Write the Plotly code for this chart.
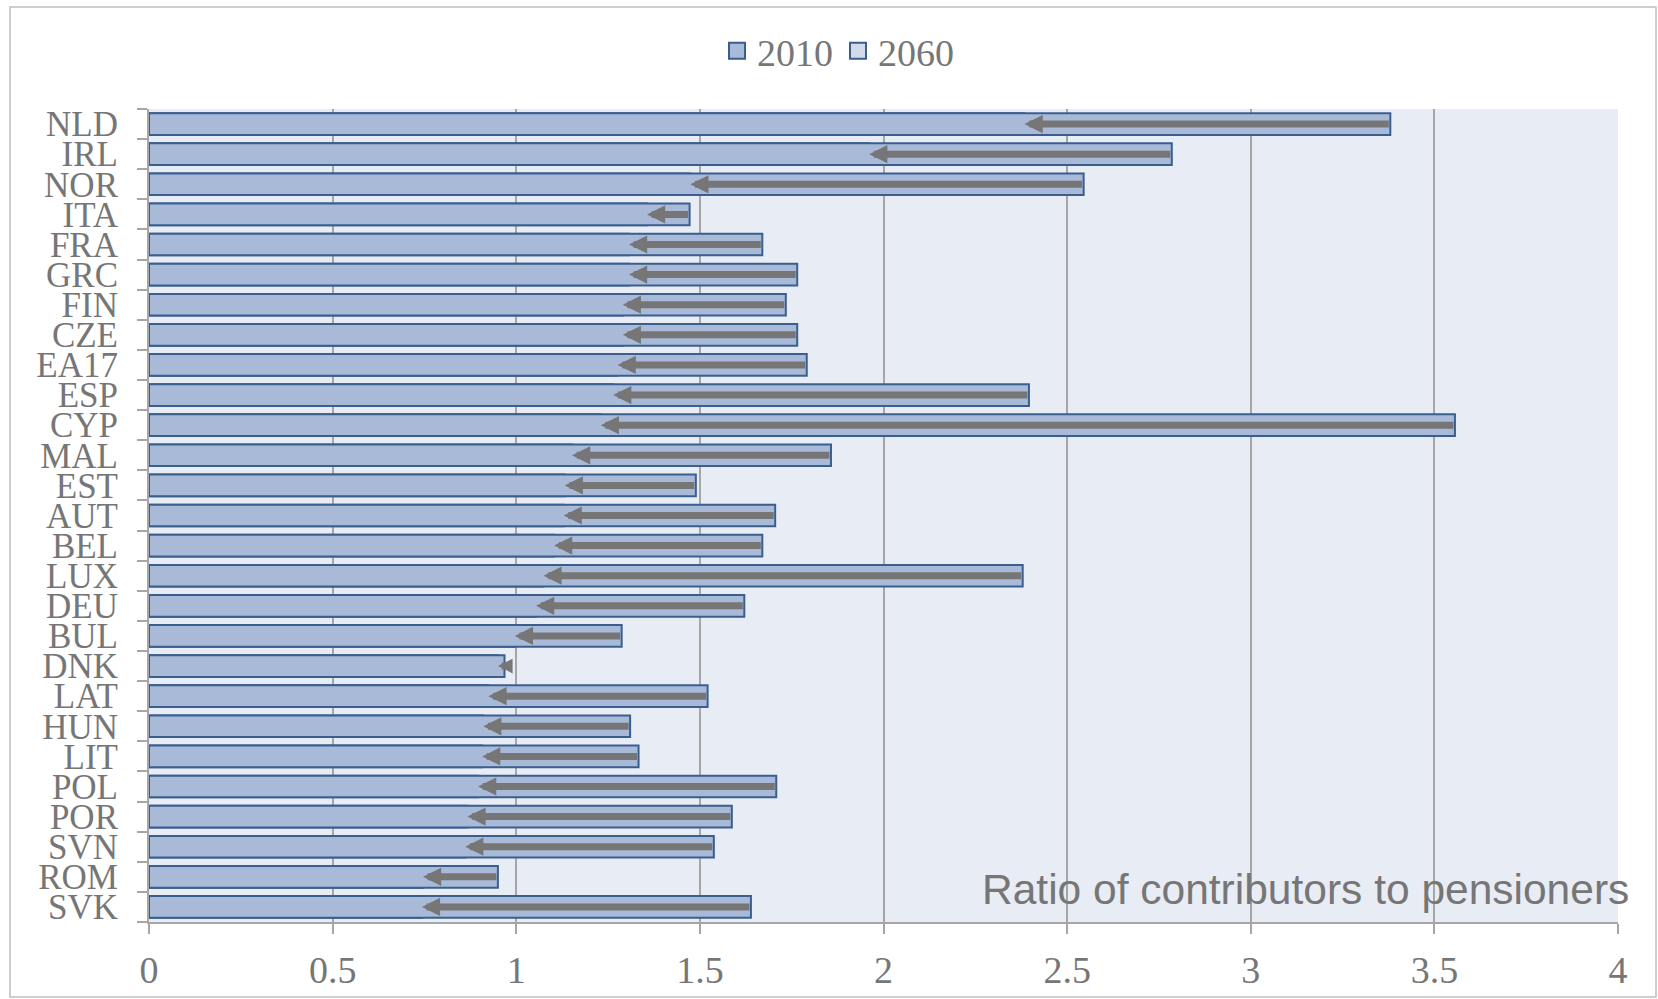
import plotly.graph_objects as go

countries = ["NLD", "IRL", "NOR", "ITA", "FRA", "GRC", "FIN", "CZE", "EA17", "ESP",
             "CYP", "MAL", "EST", "AUT", "BEL", "LUX", "DEU", "BUL", "DNK", "LAT",
             "HUN", "LIT", "POL", "POR", "SVN", "ROM", "SVK"]
v2010 = [3.38, 2.785, 2.545, 1.472, 1.670, 1.765, 1.734, 1.765, 1.791, 2.396,
         3.556, 1.857, 1.489, 1.705, 1.670, 2.379, 1.621, 1.287, 0.968, 1.521,
         1.310, 1.333, 1.708, 1.587, 1.538, 0.950, 1.639]
v2060 = [2.384, 1.961, 1.474, 1.356, 1.307, 1.307, 1.290, 1.290, 1.276, 1.264,
         1.230, 1.152, 1.132, 1.129, 1.103, 1.074, 1.054, 0.996, 0.950, 0.924,
         0.910, 0.907, 0.896, 0.867, 0.861, 0.746, 0.743]
x_ticks = [0, 0.5, 1, 1.5, 2, 2.5, 3, 3.5, 4]
x_ticklabels = ["0", "0.5", "1", "1.5", "2", "2.5", "3", "3.5", "4"]

GRAY = "#767676"
C2010, C2060, EDGE = "#A9BAD8", "#D3DAEA", "#3A5F8F"
fig = go.Figure()
fig.add_trace(go.Bar(y=countries, x=v2060, orientation="h", name="2060", showlegend=False,
                     marker=dict(color=C2060, line=dict(color=EDGE, width=2))))
fig.add_trace(go.Bar(y=countries, x=v2010, orientation="h", name="2010", showlegend=False,
                     marker=dict(color=C2010, line=dict(color=EDGE, width=2))))
for name, col in (("2010", C2010), ("2060", C2060)):
    fig.add_trace(go.Scatter(x=[None], y=[None], mode="markers", name=name,
                             marker=dict(symbol="square", size=16, color=col,
                                         line=dict(color=EDGE, width=2))))

annotations = []
for c, a, b in zip(countries, v2010, v2060):
    short = (a - b) < 0.05
    annotations.append(dict(x=b, y=c, ax=a, ay=c, xref="x", yref="y", axref="x", ayref="y",
                            text="", showarrow=True, arrowhead=2, arrowwidth=7,
                            arrowsize=0.42 if short else 0.52, arrowcolor=GRAY,
                            standoff=0, startstandoff=0))
annotations.append(dict(text="Ratio of contributors to pensioners", xref="paper", yref="paper",
                        x=1.009, y=0.008, xanchor="right", yanchor="bottom", showarrow=False,
                        font=dict(family="Liberation Sans, Arial, sans-serif", size=42.5, color=GRAY)))

W, H = 1658, 999
l, r, t, b = 149, 40, 109, 77
pw, ph = W - l - r, H - t - b
def px(xp):
    return (xp - l) / pw
def py(yp):
    return (H - b - yp) / ph

fig.update_layout(
    width=W, height=H, margin=dict(l=l, r=r, t=t, b=b, autoexpand=False),
    barmode="overlay", bargap=0.28,
    paper_bgcolor="white", plot_bgcolor="#E8ECF4",
    font=dict(family="Liberation Serif, Times New Roman, serif", color=GRAY),
    legend=dict(orientation="h", x=px(838), xanchor="center", y=py(51), yanchor="middle",
                font=dict(size=38, color=GRAY), traceorder="normal", itemwidth=30),
    xaxis=dict(range=[0, 4], tickvals=x_ticks, ticktext=x_ticklabels, automargin=False,
               showgrid=True, gridcolor="#A6A6A6", gridwidth=1.5,
               showline=True, linecolor="#A6A6A6", linewidth=2,
               ticks="outside", ticklen=10, tickcolor="#A6A6A6", tickwidth=1.5,
               tickfont=dict(size=38, color=GRAY), ticklabelstandoff=3, zeroline=False),
    yaxis=dict(categoryorder="array", categoryarray=countries, autorange="reversed",
               tickmode="array", tickvals=countries, ticktext=countries, automargin=False,
               showline=True, linecolor="#A6A6A6", linewidth=2,
               ticks="outside", ticklen=10, tickcolor="#A6A6A6", tickwidth=1.5,
               tickson="boundaries", showgrid=False,
               tickfont=dict(size=35, color=GRAY), ticklabelstandoff=22),
    annotations=annotations,
    shapes=[dict(type="rect", xref="paper", yref="paper",
                 x0=px(10), x1=px(1656), y0=py(997), y1=py(7),
                 line=dict(color="#BFBFBF", width=1.5), fillcolor="rgba(0,0,0,0)", layer="below")],
)

fig.write_html("out.html")
